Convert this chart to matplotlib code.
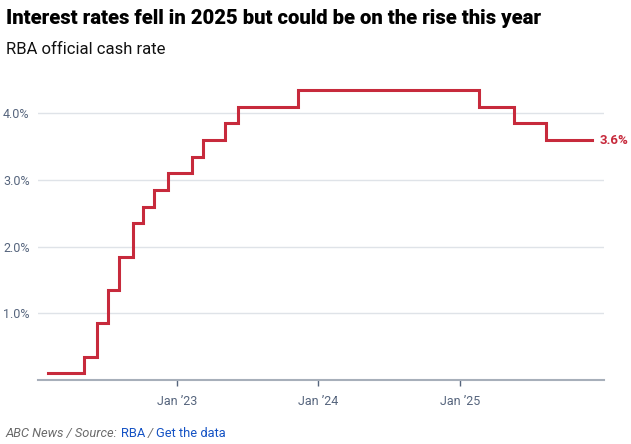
import matplotlib
matplotlib.use("Agg")
import matplotlib.pyplot as plt
import pandas as pd

# Data: RBA cash rate decision dates and resulting rates (%)
dates = ["2022-02-01", "2022-05-04", "2022-06-08", "2022-07-06", "2022-08-03",
         "2022-09-07", "2022-10-05", "2022-11-02", "2022-12-07", "2023-02-08",
         "2023-03-08", "2023-05-03", "2023-06-07", "2023-11-08", "2025-02-19",
         "2025-05-21", "2025-08-13", "2025-12-10"]
rates = [0.10, 0.35, 0.85, 1.35, 1.85, 2.35, 2.60, 2.85, 3.10, 3.35,
         3.60, 3.85, 4.10, 4.35, 4.10, 3.85, 3.60, 3.60]
ytick_vals = [1.0, 2.0, 3.0, 4.0]
ytick_labels = ["1.0%", "2.0%", "3.0%", "4.0%"]
xtick_dates = ["2023-01-01", "2024-01-01", "2025-01-01"]
xtick_labels = ["Jan \u201923", "Jan \u201924", "Jan \u201925"]

W, H = 631, 444
fig = plt.figure(figsize=(W / 100, H / 100), dpi=100)
ax = fig.add_axes([38 / W, 1 - 380 / H, (604 - 38) / W, 300 / H])

x = pd.to_datetime(dates)
red = "#c72a3c"
ax.step(x, rates, where="post", color=red, lw=2.2, solid_joinstyle="miter",
        zorder=3)

ax.set_ylim(0, 4.5)
ax.set_xlim(pd.Timestamp("2022-01-05"), pd.Timestamp("2026-01-09"))

ax.set_yticks(ytick_vals)
ax.set_yticklabels(ytick_labels)
ax.set_xticks(pd.to_datetime(xtick_dates))
ax.set_xticklabels(xtick_labels)

grid_c = "#dfe3e8"
ax.grid(axis="y", color=grid_c, lw=1.0)
ax.grid(axis="x", visible=False)
ax.set_axisbelow(True)
for s in ["top", "right", "left"]:
    ax.spines[s].set_visible(False)
ax.spines["bottom"].set_color("#a7afba")
ax.spines["bottom"].set_linewidth(1.5)

tick_c = "#56657d"
ax.tick_params(axis="y", length=0, pad=6, labelsize=9, labelcolor=tick_c)
ax.tick_params(axis="x", length=4, width=1, color="#56657d", pad=7,
               labelsize=9, labelcolor=tick_c)
for lab in ax.get_xticklabels() + ax.get_yticklabels():
    lab.set_family("Roboto")

# End label
ax.annotate(f"{rates[-1]:.1f}%", xy=(x[-1], rates[-1]), xytext=(5, 0),
            textcoords="offset points", va="center", ha="left",
            color=red, fontsize=9.5, fontweight="bold", family="Roboto",
            annotation_clip=False)

fig.text(6 / W, 1 - 18 / H, "Interest rates fell in 2025 but could be on the rise this year",
         fontsize=14.6, fontweight="heavy", family="Roboto", va="center",
         ha="left", color="#000000")
fig.text(6 / W, 1 - 50 / H, "RBA official cash rate", fontsize=12,
         family="Roboto", va="center", ha="left", color="#111111")

# Footer
fy = 1 - 433 / H
fs = 9.3
t1 = fig.text(6 / W, fy, "ABC News / Source:", fontsize=fs, style="italic",
              family="Roboto", color="#6a6a6a", va="center", ha="left")
fig.canvas.draw()
r = fig.canvas.get_renderer()
bb = t1.get_window_extent(r)
t2 = fig.text((bb.x1 + 3) / W, fy, "RBA", fontsize=fs, family="Roboto",
              color="#1452c4", va="center", ha="left")
bb2 = t2.get_window_extent(r)
t3 = fig.text((bb2.x1 + 3) / W, fy, "/", fontsize=fs, style="italic",
              family="Roboto", color="#6a6a6a", va="center", ha="left")
bb3 = t3.get_window_extent(r)
fig.text((bb3.x1 + 3) / W, fy, "Get the data", fontsize=fs, family="Roboto",
         color="#1452c4", va="center", ha="left")

fig.savefig("out.png", dpi=100)
